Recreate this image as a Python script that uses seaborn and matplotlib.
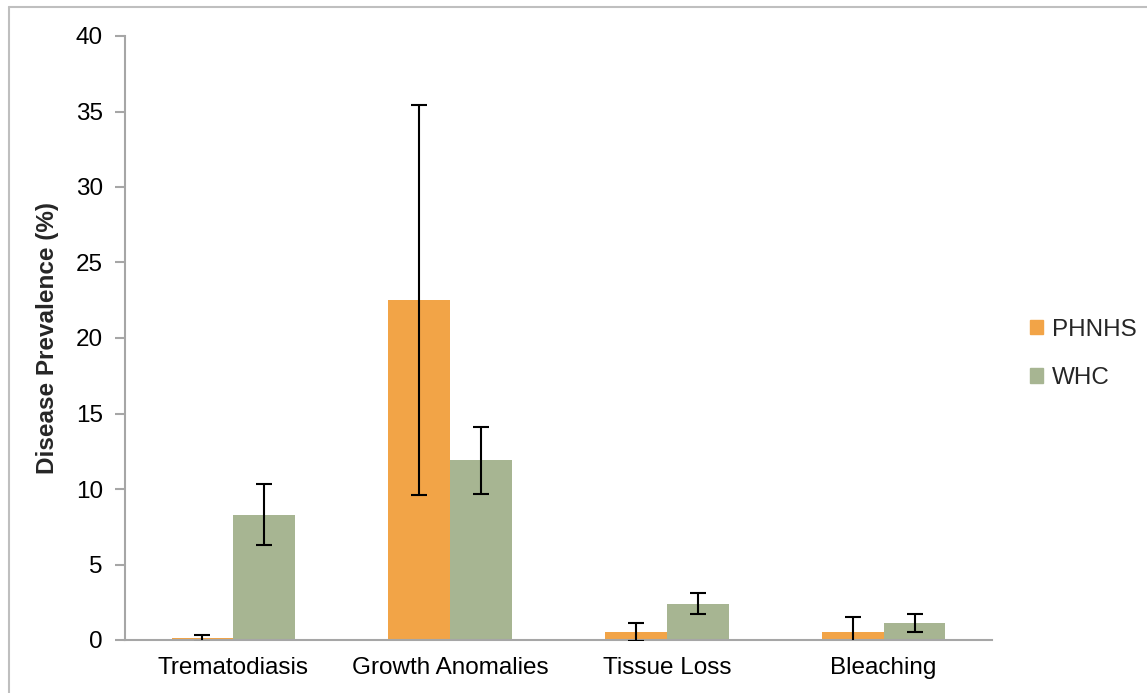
import matplotlib
matplotlib.use("Agg")
import matplotlib.pyplot as plt
from matplotlib.lines import Line2D
import seaborn as sns
import pandas as pd

# Disease prevalence by site (mean ± error)
categories = ["Trematodiasis", "Growth Anomalies", "Tissue Loss", "Bleaching"]
sites = ["PHNHS", "WHC"]
phnhs_values = [0.1, 22.5, 0.53, 0.5]
phnhs_err = [0.2, 12.9, 0.6, 1.0]
whc_values = [8.3, 11.9, 2.4, 1.13]
whc_err = [2.0, 2.2, 0.7, 0.6]

colors = ["#F2A447", "#A7B592"]
axis_gray = "#A6A6A6"
fs = 17.5

df = pd.DataFrame({
    "Disease": categories * 2,
    "Site": [sites[0]] * len(categories) + [sites[1]] * len(categories),
    "Prevalence": phnhs_values + whc_values,
})
errors = {sites[0]: phnhs_err, sites[1]: whc_err}

sns.set_theme(style="white")
plt.rcParams["font.family"] = ["Liberation Sans", "DejaVu Sans"]

fig = plt.figure(figsize=(11.47, 6.93), dpi=100)
ax = fig.add_axes([125 / 1147, 1 - 640 / 693, (992 - 125) / 1147, (640 - 36) / 693])

sns.barplot(data=df, x="Disease", y="Prevalence", hue="Site", hue_order=sites,
            order=categories, palette=colors, width=0.57, saturation=1,
            errorbar=None, ax=ax, legend=False, linewidth=0)

# error bars placed at the centre of each drawn bar
for site, container in zip(sites, ax.containers):
    xs = [p.get_x() + p.get_width() / 2 for p in container]
    ys = [p.get_height() for p in container]
    ax.errorbar(xs, ys, yerr=errors[site], fmt="none", ecolor="black",
                elinewidth=1.5, capsize=6, capthick=1.5, zorder=5)

ax.set_xlim(-0.5, len(categories) - 0.5)
ax.set_ylim(0, 40)
ax.set_yticks(range(0, 41, 5))
ax.set_xlabel("")
ax.set_ylabel("Disease Prevalence (%)", fontsize=fs, fontweight="bold", labelpad=12)

# category boundaries carry the tick marks, labels sit at centres
ax.set_xticks([i - 0.5 for i in range(len(categories) + 1)], minor=True)
ax.tick_params(axis="x", which="major", length=0, pad=12, labelsize=fs, colors="black")
ax.tick_params(axis="x", which="minor", length=7, width=1.5, color=axis_gray, direction="out")
ax.tick_params(axis="y", which="major", length=7, width=1.5, color=axis_gray,
               direction="out", pad=9, labelsize=fs, labelcolor="black")
ax.tick_params(axis="both", bottom=True, left=True)

for side in ["top", "right"]:
    ax.spines[side].set_visible(False)
for side in ["left", "bottom"]:
    ax.spines[side].set_color(axis_gray)
    ax.spines[side].set_linewidth(1.5)

handles = [plt.Rectangle((0, 0), 1, 1, color=c) for c in colors]
fig.legend(handles, sites, loc="center left", bbox_to_anchor=(1030 / 1147, 1 - 354 / 693),
           frameon=False, fontsize=fs, handlelength=0.55, handleheight=0.55,
           handletextpad=0.35, labelspacing=1.1, borderpad=0, borderaxespad=0)

# outer chart border
fig.add_artist(Line2D([8.5 / 1147, 8.5 / 1147], [0, 1 - 6.5 / 693], color="#BFBFBF",
                      lw=1.5, transform=fig.transFigure))
fig.add_artist(Line2D([8.5 / 1147, 1], [1 - 6.5 / 693, 1 - 6.5 / 693], color="#BFBFBF",
                      lw=1.5, transform=fig.transFigure))

fig.savefig("out.png", dpi=100, facecolor="white")
